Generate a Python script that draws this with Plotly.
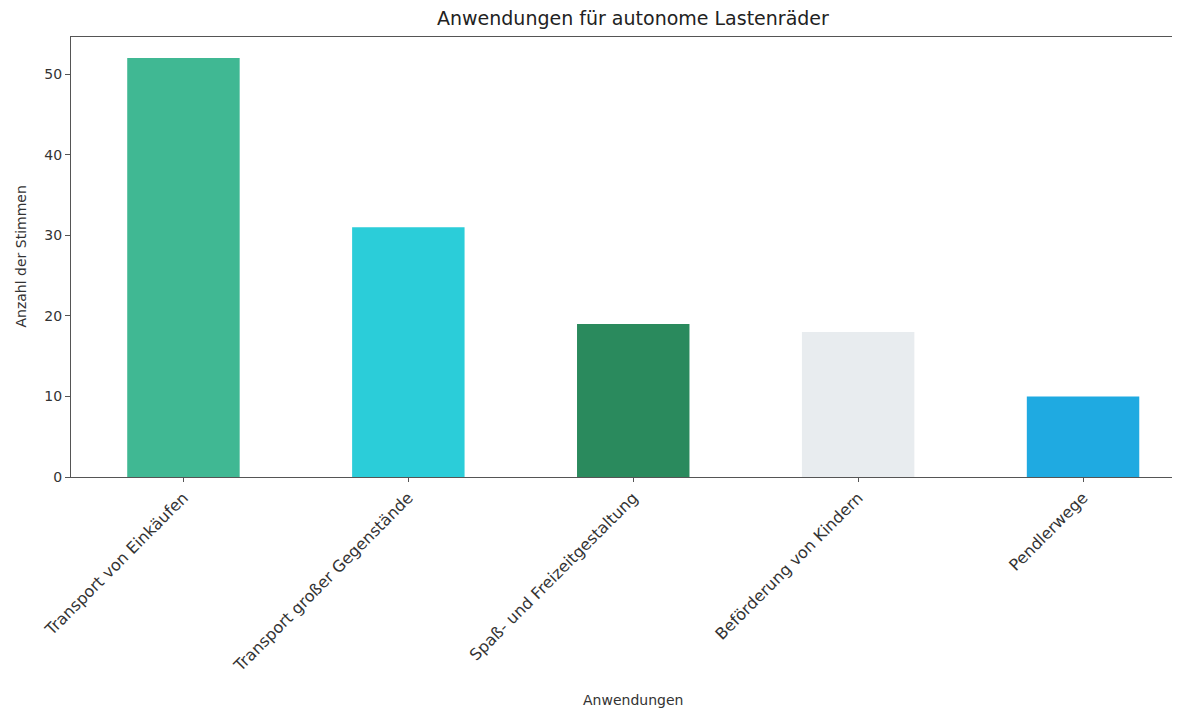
import plotly.graph_objects as go

categories = ["Transport von Einkäufen", "Transport großer Gegenstände",
              "Spaß- und Freizeitgestaltung", "Beförderung von Kindern", "Pendlerwege"]
votes = [52, 31, 19, 18, 10]
colors = ["#40b893", "#2bcdd9", "#2a8a5d", "#e8ecef", "#1faae1"]
y_ticks = [0, 10, 20, 30, 40, 50]

title = "Anwendungen für autonome Lastenräder"
x_title = "Anwendungen"
y_title = "Anzahl der Stimmen"

# page offset from the browser's default body margin
OFF = 8
W, H = 1180, 711
L, T, B, R = 70.5 - OFF, 37 - OFF, 477 - OFF, 1180 - OFF
plot_w = R - L
plot_h = B - T

fig = go.Figure(go.Bar(
    x=list(range(len(categories))), y=votes, marker=dict(color=colors, line=dict(width=0)),
    width=0.5,
))

font = "DejaVu Sans"
axcol = "#555555"
x_lo = -0.5
x_hi = x_lo + plot_w / 225.0

fig.update_layout(
    width=W, height=H,
    margin=dict(l=L, r=W - R, t=T, b=H - B, pad=0),
    paper_bgcolor="white", plot_bgcolor="white",
    showlegend=False,
    font=dict(family=font, color="#333333", size=14),
    xaxis=dict(
        range=[x_lo, x_hi], tickmode="array", tickvals=list(range(len(categories))),
        ticktext=categories, tickangle=-45, showgrid=False, zeroline=False,
        showline=True, linecolor=axcol, linewidth=1.2, mirror=True,
        ticks="outside", ticklen=4, tickcolor=axcol, tickfont=dict(size=16),
    ),
    yaxis=dict(
        range=[0, 54.6], tickmode="array", tickvals=y_ticks, showgrid=False,
        zeroline=False, showline=True, linecolor=axcol, linewidth=1.2,
        ticks="outside", ticklen=5, tickcolor=axcol, tickfont=dict(size=14),
    ),
    annotations=[
        dict(text=title, xref="x", x=2, yref="paper", y=(B - (18 - OFF)) / plot_h,
             showarrow=False, xanchor="center", yanchor="middle",
             font=dict(size=19, color="#222222")),
        dict(text=x_title, xref="x", x=2, yref="paper", y=-((700 - OFF) - B) / plot_h,
             showarrow=False, xanchor="center", yanchor="middle",
             font=dict(size=14, color="#333333")),
        dict(text=y_title, xref="paper", x=((20 - OFF) - L) / plot_w, yref="paper",
             y=(B - (257 - OFF)) / plot_h,
             showarrow=False, xanchor="center", yanchor="middle", textangle=-90,
             font=dict(size=14, color="#333333")),
    ],
)

fig.write_html("out.html")
